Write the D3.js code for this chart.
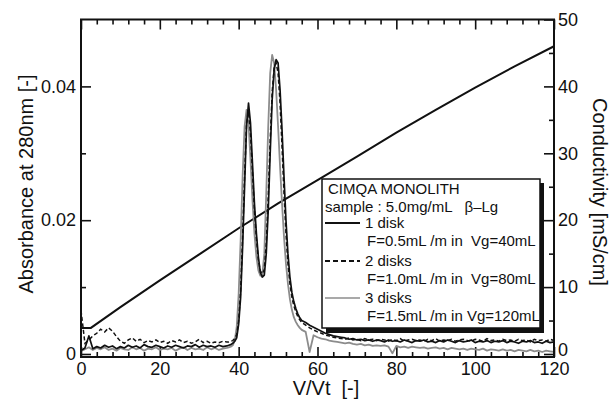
<!DOCTYPE html>
<html><head><meta charset="utf-8">
<script src="https://cdn.jsdelivr.net/npm/d3@7"></script>
<style>
body{margin:0;background:#fff}
svg{display:block}
text{font-family:"Liberation Sans",Arial,Helvetica,sans-serif;fill:#111}
</style>
</head><body>
<svg id="c" width="613" height="403"></svg>
<script>
// ---------- data ----------
const vt = [
  0,1,2,3,4,5,6,7,8,9,
  10,11,12,13,14,15,16,17,18,19,
  20,21,22,23,24,25,26,27,28,29,
  30,31,32,33,34,35,36,37,
  37.5,38,38.5,39,39.5,40,40.5,41,41.5,42,
  42.5,43,43.5,44,44.5,45,45.5,46,46.5,47,
  47.5,48,48.5,49,49.5,50,50.5,51,51.5,52,
  52.5,53,53.5,54,54.5,55,55.5,56,
  57,58,59,60,61,62,63,64,65,66,
  67,68,69,70,71,72,73,74,75,76,
  77,78,79,80,81,82,83,84,85,86,
  87,88,89,90,91,92,93,94,95,96,
  97,98,99,100,101,102,103,104,105,106,
  107,108,109,110,111,112,113,114,115,116,
  117,118,119,120
];
const abs1disk = [
  0.0005,0.0009,0.0027,0.0008,0.0011,0.0009,0.0013,0.0010,0.0012,0.0008,
  0.0011,0.0009,0.0013,0.0010,0.0012,0.0009,0.0014,0.0011,0.0010,0.0013,
  0.0011,0.0009,0.0012,0.0010,0.0013,0.0011,0.0009,0.0012,0.0011,0.0014,
  0.0010,0.0013,0.0011,0.0012,0.0010,0.0013,0.0011,0.0012,
  0.0013,0.0014,0.0016,0.0019,0.0024,0.0045,0.0085,0.0160,0.0250,0.0340,
  0.0375,0.0345,0.0285,0.0225,0.0180,0.0145,0.0122,0.0115,0.0118,0.0150,
  0.0215,0.0300,0.0380,0.0425,0.0440,0.0435,0.0395,0.0335,0.0265,0.0200,
  0.0150,0.0115,0.0092,0.0078,0.0068,0.0060,0.0054,0.0050,
  0.0047,0.0043,0.0040,0.0037,0.0034,0.0031,0.0029,0.0027,0.0026,0.0025,
  0.0024,0.0022,0.0023,0.0021,0.0022,0.0020,0.0021,0.0019,0.0021,0.0020,
  0.0018,0.0021,0.0019,0.0020,0.0018,0.0021,0.0019,0.0017,0.0020,0.0019,
  0.0021,0.0018,0.0019,0.0017,0.0020,0.0018,0.0021,0.0019,0.0017,0.0020,
  0.0018,0.0019,0.0021,0.0017,0.0019,0.0018,0.0020,0.0017,0.0019,0.0018,
  0.0020,0.0017,0.0019,0.0018,0.0016,0.0019,0.0018,0.0020,0.0017,0.0018,
  0.0016,0.0019,0.0017,0.0018
];
const abs2disks = [
  0.0065,0.0016,0.0021,0.0027,0.0031,0.0037,0.0033,0.0039,0.0034,0.0026,
  0.0019,0.0016,0.0021,0.0024,0.0019,0.0022,0.0017,0.0020,0.0018,0.0021,
  0.0017,0.0019,0.0016,0.0020,0.0018,0.0021,0.0017,0.0019,0.0016,0.0018,
  0.0022,0.0017,0.0019,0.0016,0.0018,0.0017,0.0019,0.0018,
  0.0018,0.0019,0.0020,0.0023,0.0029,0.0050,0.0095,0.0175,0.0265,0.0345,
  0.0362,0.0330,0.0272,0.0215,0.0172,0.0140,0.0124,0.0120,0.0126,0.0165,
  0.0235,0.0320,0.0392,0.0428,0.0435,0.0420,0.0375,0.0310,0.0240,0.0180,
  0.0135,0.0105,0.0085,0.0072,0.0063,0.0056,0.0051,0.0047,
  0.0043,0.0039,0.0036,0.0033,0.0031,0.0028,0.0027,0.0025,0.0024,0.0023,
  0.0022,0.0024,0.0021,0.0022,0.0020,0.0023,0.0021,0.0022,0.0020,0.0022,
  0.0021,0.0019,0.0022,0.0020,0.0023,0.0019,0.0021,0.0022,0.0020,0.0021,
  0.0019,0.0022,0.0020,0.0023,0.0019,0.0021,0.0020,0.0022,0.0019,0.0021,
  0.0022,0.0020,0.0019,0.0022,0.0021,0.0019,0.0023,0.0020,0.0021,0.0019,
  0.0022,0.0020,0.0021,0.0019,0.0022,0.0020,0.0021,0.0018,0.0022,0.0020,
  0.0021,0.0019,0.0022,0.0020
];
const abs3disks = [
  0.0004,0.0007,0.0010,0.0006,0.0009,0.0007,0.0010,0.0006,0.0008,0.0005,
  0.0009,0.0007,0.0006,0.0010,0.0007,0.0009,0.0005,0.0008,0.0007,0.0010,
  0.0006,0.0008,0.0007,0.0009,0.0005,0.0008,0.0010,0.0006,0.0009,0.0007,
  0.0008,0.0006,0.0010,0.0007,0.0009,0.0006,0.0008,0.0009,
  0.0010,0.0011,0.0013,0.0020,0.0040,0.0090,0.0170,0.0265,0.0340,0.0365,
  0.0345,0.0290,0.0230,0.0180,0.0145,0.0125,0.0117,0.0118,0.0150,0.0240,
  0.0340,0.0420,0.0447,0.0435,0.0395,0.0340,0.0280,0.0225,0.0175,0.0135,
  0.0105,0.0082,0.0066,0.0055,0.0048,0.0043,0.0039,0.0036,
  0.0033,0.0003,0.0028,0.0025,0.0023,0.0022,0.0020,0.0019,0.0018,0.0017,
  0.0016,0.0017,0.0015,0.0014,0.0015,0.0013,0.0014,0.0012,0.0013,0.0012,
  0.0013,0.0011,0.0001,0.0012,0.0010,0.0011,0.0009,0.0011,0.0010,0.0009,
  0.0010,0.0008,0.0009,0.0010,0.0008,0.0009,0.0007,0.0009,0.0008,0.0007,
  0.0008,0.0006,0.0008,0.0007,0.0006,0.0008,0.0005,0.0007,0.0006,0.0005,
  0.0007,0.0005,0.0006,0.0004,0.0006,0.0005,0.0004,0.0006,0.0004,0.0005,
  0.0003,0.0005,0.0004,0.0003
];
const condVt = [0,2.5,10,20,30,40,50,60,70,80,90,100,110,120];
const conductivity = [3.9,3.9,7.0,11.0,14.9,18.8,22.5,26.0,29.5,33.1,36.5,39.8,43.0,46.0];

const xTicks = [0,20,40,60,80,100,120];
const yTicks = [0,0.02,0.04];
const yTickLabels = ["0","0.02","0.04"];
const yMinorTicks = [0.01,0.03];
const y2Ticks = [0,10,20,30,40,50];
const y2MinorTicks = [5,15,25,35,45];

const legendTitle = "CIMQA MONOLITH";
const legendSample = "sample : 5.0mg/mL   \u03B2\u2013Lg";
const seriesNames = ["1 disk","2 disks","3 disks"];
const seriesConds = ["F=0.5mL /m in  Vg=40mL","F=1.0mL /m in  Vg=80mL","F=1.5mL /m in Vg=120mL"];

// ---------- layout ----------
const L = 81, R = 554, T = 19.5, B = 357;
const svg = d3.select("#c");

const x = d3.scaleLinear().domain([0,120]).range([L,R]);
const y = d3.scaleLinear().domain([-0.00045,0.05]).range([B,T]);
const y2 = d3.scaleLinear().domain([-0.45,50]).range([B,T]);

svg.append("defs").append("clipPath").attr("id","clip")
  .append("rect").attr("x",L).attr("y",T).attr("width",R-L).attr("height",B-T);

const styleAxis = g => {
  g.select(".domain").remove();
  g.selectAll(".tick line").attr("stroke","#111").attr("stroke-width",1.6);
  g.selectAll(".tick text").attr("font-size",18).attr("font-family",'"Liberation Sans",Arial,sans-serif').attr("fill","#111");
};

// bottom
svg.append("g").attr("transform",`translate(0,${B})`)
  .call(d3.axisBottom(x).tickValues(xTicks).tickSize(-10).tickPadding(5).tickFormat(d3.format("d")))
  .call(styleAxis);
svg.append("g").attr("transform",`translate(0,${B})`)
  .call(d3.axisBottom(x).tickValues(d3.range(0,121,4).filter(v=>v%20)).tickSize(-5).tickFormat(""))
  .call(styleAxis);
// top
svg.append("g").attr("transform",`translate(0,${T})`)
  .call(d3.axisTop(x).tickValues(xTicks).tickSize(-10).tickFormat(""))
  .call(styleAxis);
svg.append("g").attr("transform",`translate(0,${T})`)
  .call(d3.axisTop(x).tickValues(d3.range(0,121,4).filter(v=>v%20)).tickSize(-5).tickFormat(""))
  .call(styleAxis);
// left
svg.append("g").attr("transform",`translate(${L},0)`)
  .call(d3.axisLeft(y).tickValues(yTicks).tickSize(-10).tickPadding(5).tickFormat((d,i)=>yTickLabels[i]))
  .call(styleAxis);
svg.append("g").attr("transform",`translate(${L},0)`)
  .call(d3.axisLeft(y).tickValues(yMinorTicks).tickSize(-5).tickFormat(""))
  .call(styleAxis);
// right
const rightAxis = svg.append("g").attr("transform",`translate(${R},0)`)
  .call(d3.axisRight(y2).tickValues(y2Ticks).tickSize(-10).tickPadding(4).tickFormat(d3.format("d")))
  .call(styleAxis);
// lift the bottom "0" a little so it does not collide with "120"
rightAxis.selectAll(".tick text").filter(d=>d===0).attr("dy","0.1em");
svg.append("g").attr("transform",`translate(${R},0)`)
  .call(d3.axisRight(y2).tickValues(y2MinorTicks).tickSize(-5).tickFormat(""))
  .call(styleAxis);

// ---------- lines ----------
const plot = svg.append("g").attr("clip-path","url(#clip)");
const absLine = arr => d3.line().x((d,i)=>x(vt[i])).y(d=>y(d))(arr);

plot.append("path")
  .attr("d", d3.line().x((d,i)=>x(condVt[i])).y(d=>y2(d))(conductivity))
  .attr("fill","none").attr("stroke","#111").attr("stroke-width",2);

plot.append("path").attr("d",absLine(abs3disks))
  .attr("fill","none").attr("stroke","#8c8c8c").attr("stroke-width",1.8).attr("stroke-linejoin","round");
plot.append("path").attr("d",absLine(abs1disk))
  .attr("fill","none").attr("stroke","#111").attr("stroke-width",1.7).attr("stroke-linejoin","round");
plot.append("path").attr("d",absLine(abs2disks))
  .attr("fill","none").attr("stroke","#111").attr("stroke-width",1.5).attr("stroke-dasharray","4,2.5");

// frame
svg.append("rect").attr("x",L).attr("y",T).attr("width",R-L).attr("height",B-T)
  .attr("fill","none").attr("stroke","#111").attr("stroke-width",2);

// ---------- legend ----------
const lg = svg.append("g");
lg.append("rect").attr("x",326).attr("y",183).attr("width",218).attr("height",150).attr("fill","#111");
lg.append("rect").attr("x",322).attr("y",179).attr("width",218).attr("height",149)
  .attr("fill","#fff").attr("stroke","#111").attr("stroke-width",1.5);

const lfs = 15;
lg.append("text").attr("x",328).attr("y",194).attr("font-size",lfs).style("white-space","pre").text(legendTitle);
lg.append("text").attr("x",325).attr("y",212).attr("font-size",lfs).style("white-space","pre").text(legendSample);

const rowY = [223, 261, 298];
const strokes = [{c:"#111",w:1.8,d:null},{c:"#111",w:1.8,d:"5,3"},{c:"#8c8c8c",w:1.4,d:null}];
seriesNames.forEach((n,i)=>{
  const l = lg.append("line").attr("x1",325).attr("x2",360).attr("y1",rowY[i]).attr("y2",rowY[i])
    .attr("stroke",strokes[i].c).attr("stroke-width",strokes[i].w);
  if (strokes[i].d) l.attr("stroke-dasharray",strokes[i].d);
  lg.append("text").attr("x",365).attr("y",rowY[i]+5).attr("font-size",lfs).style("white-space","pre").text(n);
  lg.append("text").attr("x",367).attr("y",rowY[i]+23).attr("font-size",lfs).style("white-space","pre").text(seriesConds[i]);
});

// ---------- titles ----------
svg.append("text").attr("transform","translate(33,184) rotate(-90)").attr("text-anchor","middle")
  .attr("font-size",20).text("Absorbance at 280nm [-]");
svg.append("text").attr("transform","translate(593,192) rotate(90)").attr("text-anchor","middle")
  .attr("font-size",20).text("Conductivity [mS/cm]");
svg.append("text").attr("x",326).attr("y",395).attr("text-anchor","middle")
  .attr("font-size",20).style("white-space","pre").text("V/Vt  [-]");
</script>
</body></html>
